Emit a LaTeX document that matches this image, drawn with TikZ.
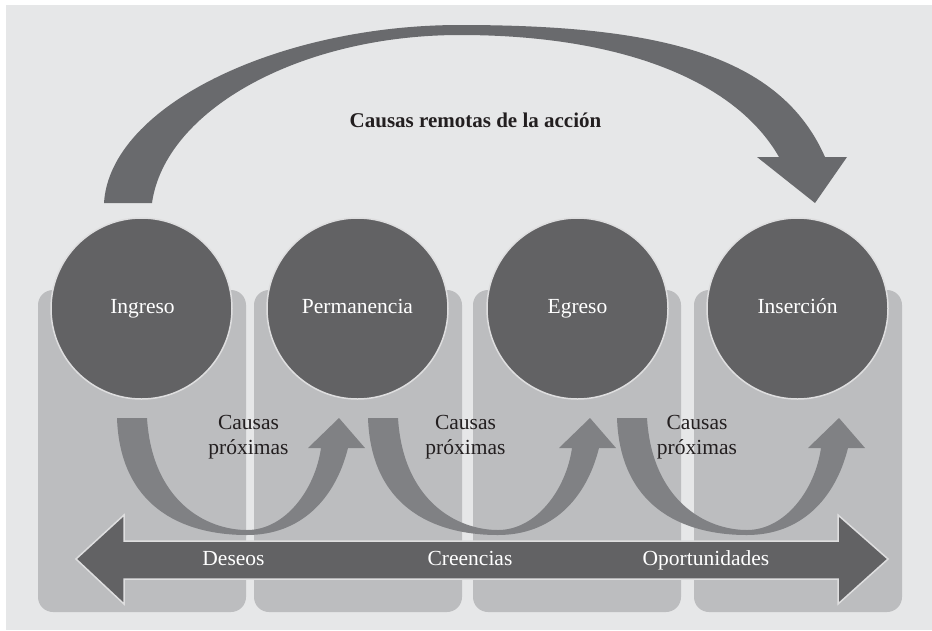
\documentclass[tikz,border=0pt]{standalone}
\usepackage{fontspec}
\setmainfont{Liberation Serif}
\usetikzlibrary{calc}
\definecolor{bgc}{RGB}{230,231,232}
\definecolor{panelc}{RGB}{188,189,191}
\definecolor{circc}{RGB}{98,98,100}
\definecolor{arcc}{RGB}{105,106,109}
\definecolor{uarrc}{RGB}{128,129,132}
\definecolor{edgec}{RGB}{222,222,223}
\definecolor{txtc}{RGB}{35,31,32}
\tikzset{
  panel/.style={fill=panelc, rounded corners=15pt},
  stage/.style={circle, minimum size=181pt, inner sep=0pt, fill=circc, draw=edgec, line width=1.5pt},
  bigarrow/.style={fill=arcc},
  smallarrow/.style={fill=uarrc},
  dblarrow/.style={fill=circc, draw=edgec, line width=1.5pt},
  barlabel/.style={anchor=base, text=white, font=\fontsize{21.5}{25}\selectfont, inner sep=0pt},
  causelabel/.style={align=center, text=txtc, font=\fontsize{21.5}{25}\selectfont, inner sep=0pt},
  titlelabel/.style={anchor=base, text=txtc, font=\fontsize{21}{25}\selectfont\bfseries, inner sep=0pt}
}
\begin{document}
\begin{tikzpicture}[x=1pt, y=-1pt]
\useasboundingbox (0,0) rectangle (932,630);
\fill[white] (0,0) rectangle (932,630);
\fill[bgc] (6,5) rectangle (932,630);
% panels
\fill[panel] (38,290) rectangle (246,612);
\fill[panel] (254,290) rectangle (462,612);
\fill[panel] (473,290) rectangle (681,612);
\fill[panel] (694,290) rectangle (902,612);
% big arc arrow
\fill[bigarrow] (104,203) .. controls (110,105) and (280,25) .. (460,25)
  .. controls (660,25) and (780,55) .. (825,157) -- (847,157) -- (815,203) -- (757,157) -- (779,157)
  .. controls (735,80) and (620,35) .. (460,35)
  .. controls (300,35) and (165,110) .. (152,203) -- cycle;
\node[titlelabel] (remotas) at (475.5,127) {Causas remotas de la acción};
% stages
\node[stage] (ingreso) at (141.5,308.5) {};
\node[stage] (perm) at (357.5,308.5) {};
\node[stage] (egreso) at (577.5,308.5) {};
\node[stage] (insercion) at (797.5,308.5) {};
\node[barlabel] at (142.5,313) {Ingreso};
\node[barlabel] at (357.5,313) {Permanencia};
\node[barlabel] at (577.5,313) {Egreso};
\node[barlabel] at (797.5,313) {Inserción};
% U-shaped arrows
\foreach \s in {0,251,500}{
  \begin{scope}[xshift=\s pt]
  \fill[smallarrow] (117,418) .. controls (120,505) and (180,535) .. (247,535)
    .. controls (300,535) and (335,500) .. (348,448) -- (365,448) -- (339,418) -- (308,448) -- (321,448)
    .. controls (315,490) and (285,530) .. (247,530)
    .. controls (205,530) and (152,500) .. (147,418) -- cycle;
  \end{scope}
}
\node[causelabel] (cp1) at (248.5,437) {Causas\\próximas};
\node[causelabel] (cp2) at (465.5,437) {Causas\\próximas};
\node[causelabel] (cp3) at (697,437) {Causas\\próximas};
% double arrow
\filldraw[dblarrow] (76,559) -- (124,515) -- (124,541) -- (838,541) -- (838,515) -- (888,559)
  -- (838,604) -- (838,579) -- (124,579) -- (124,604) -- cycle;
\node[barlabel] (deseos) at (233.5,565) {Deseos};
\node[barlabel] (creencias) at (470,565) {Creencias};
\node[barlabel] (oport) at (706,565) {Oportunidades};
\end{tikzpicture}
\end{document}
